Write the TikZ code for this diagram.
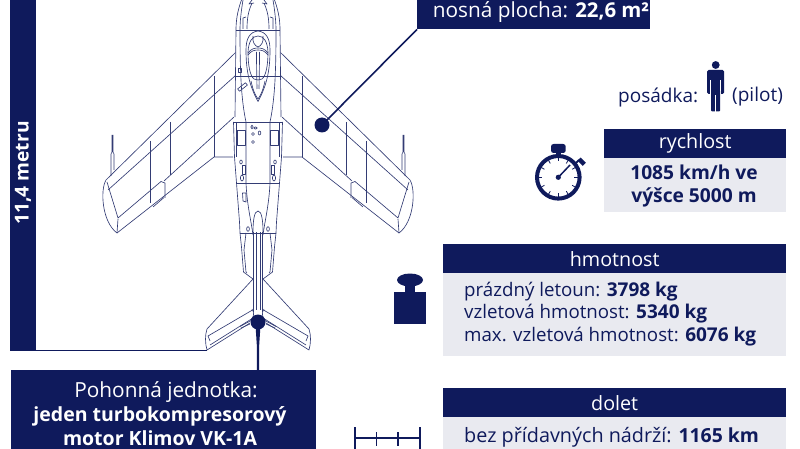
\documentclass[tikz,border=0pt]{standalone}
\usepackage{fontspec}
\usetikzlibrary{calc}
\setmainfont{Open Sans}
\definecolor{navy}{HTML}{0F1A5C}
\definecolor{panel}{HTML}{E9EAF0}
\newcommand\bsz[2]{{\fontsize{#1}{24}\selectfont\bfseries #2}}
\newcommand\lowered[1]{\raisebox{-1pt}{#1}}
\tikzset{
 x=1pt,y=-1pt,
 plane/.style={draw=navy!85!white,line width=0.65pt,line join=round},
 head/.style={fill=navy,draw=none,inner sep=0,text=white,font=\fontsize{19.7}{22}\selectfont},
 card/.style={fill=panel,draw=none},
 txt/.style={text=navy,font=\fontsize{18.7}{22.5}\selectfont,inner sep=0,anchor=west,align=left},
 lead/.style={draw=navy,line width=1.6pt},
 dotm/.style={circle,fill=navy,minimum size=15pt,inner sep=0},
 icon/.style={fill=navy,draw=none},
}
\begin{document}
\begin{tikzpicture}
\useasboundingbox (0,0) rectangle (800,449);
% --- plane: left half drawn, then mirrored about x=258
\foreach \mm/\oo in {1/0,-1/516}{
\begin{scope}[xshift=\oo pt,xscale=\mm]
 % wing
 \draw[plane] (235.5,52.5) -- (106,180) .. controls (100,190) and (102,222) .. (117,233) -- (214,157) -- (233,157);
 \draw[plane] (235.5,75.5) -- (108,190);
 \draw[plane] (107,182) -- (118,218) -- (161,181.5) -- (165,183) -- (165,198);
 \draw[plane] (118,219) -- (117,233);
 \draw[plane] (234,117) -- (164,181);
 \draw[plane] (153,207) -- (164,197.5);
 \draw[plane] (214,76) -- (214,157);
 \draw[plane] (170,122) -- (170,175);
 \draw[plane] (150,141) -- (150,203);
 \draw[plane] (111,176) -- (111,154) -- (112,152) -- (112,135) (113,135) -- (113,152) -- (114,154) -- (114,170);
 % fuselage
 \draw[plane] (241.5,0) .. controls (237,12) and (236,22) .. (236,30) -- (235,117);
 \draw[plane] (243,0) .. controls (241,12) and (240,22) .. (240,30) .. controls (240,70) and (241,95) .. (245,117) -- (246,122) -- (246,183) .. controls (247,205) and (251,220) .. (253,235);
 \draw[plane] (233.5,122) -- (258,122);
 \draw[plane] (233.5,122) -- (234.5,157) -- (236.5,183) -- (239.5,222) -- (240,233);
 \draw[plane] (236.5,123) -- (236.5,157);
 \draw[plane] (236,30) -- (258,30);
 \draw[plane] (236,76) -- (258,76);
 \draw[plane] (236.5,183) -- (258,183);
 \draw[plane] (240,233) -- (258,233);
 % duct and panels
 \draw[plane] (237.5,130.5) rectangle (245.5,145.5);
 \draw[plane] (241,162) ellipse [x radius=1.3,y radius=2];
 \draw[plane] (242,165) rectangle (245,174);
 \draw[plane] (242,178) ellipse [x radius=1.6,y radius=3];
 % nose details
 \draw[plane] (243,29) -- (243,18) -- (246,17) (252,0) -- (249,4) -- (254,3);
 \draw[plane] (247,29) .. controls (247,14) and (250,8) .. (252,3);
 % tail fuselage
 \draw[plane] (240,233) -- (241.5,247) -- (243.5,272) -- (253,279) -- (207,329) .. controls (205,335) and (205,343) .. (207,350) -- (250,323);
 \draw[plane] (246,233) -- (244,250) -- (246,272) -- (247,273);
 \draw[plane] (252.5,310) -- (208,336) -- (210,341) (252,309) .. controls (254,312) and (254,315) .. (253,318) -- (210,345);
 \draw[plane] (240,326.5) -- (252,320) (241,328) -- (250,324);
 % cockpit half
 \draw[plane] (258,31) .. controls (250,32) and (246,38) .. (246,50) .. controls (246,70) and (249,85) .. (258,101.5);
 \draw[plane] (258,36) .. controls (252,36) and (248.5,42) .. (248,52) .. controls (248,65) and (250,76) .. (254,79) -- (258,80);
 \draw[plane] (248,53) .. controls (251,49) and (254,48) .. (258,48);
 \draw[plane] (248,55) .. controls (251,51) and (254,50) .. (258,50);
 \draw[plane] (251,81) .. controls (253,90) and (255,95) .. (258,99);
 \draw[plane] (253,36) .. controls (252,42) and (255,46) .. (258,47);
 \draw[plane] (256.5,52) -- (256.5,60) -- (257,89);
 % exhaust
 \draw[plane] (253.3,232) -- (253.3,312);
 \draw[plane] (256,232) -- (256,310);
 \draw[plane] (248,229) ellipse [x radius=1.4,y radius=2.3];
\end{scope}}
\draw[plane] (258,211) .. controls (254,211) and (253,222) .. (253,232);
\draw[plane] (258,211) .. controls (262,211) and (263,222) .. (263,232);
% left-side only details
\draw[plane] (238,68) rectangle (241,72);
\draw[plane,rotate around={38:(242.5,87)}] (237.5,85.5) rectangle (247.5,88.5);
\draw[plane] (242.5,193) -- (246,193) -- (246,202) -- (243,201) -- cycle;
\foreach \pa/\pb/\pc/\pd in {252/127/1.2/1.9, 255.5/128/1.8/1.2, 253/134/1.5/1.5, 259.5/133/1.3/2, 253/142/1.5/1.5}{
 \draw[plane] (\pa,\pb) ellipse [x radius=\pc,y radius=\pd];
}
% --- leaders and dark panels
\fill[navy] (10,0) rectangle (36,351);
\node[rotate=90,inner sep=0,text=white,font=\bfseries\fontsize{19.2}{20}\selectfont] (span) at (23,173) {11,4 metru};
\coordinate (spanend) at (36,350.5);
\coordinate (spantail) at (207,350.5);
\draw[navy,line width=0.8pt] (spanend) -- (spantail);
\node[fill=navy,inner sep=0,minimum width=233pt,minimum height=30pt,anchor=north west] (area) at (417,-1) {};
\node[text=white,inner sep=0,font=\fontsize{20.8}{22}\selectfont] (areatxt) at (541,12) {nosná plocha: \bsz{20.4}{22,6 m²}};
\node[dotm] (wingdot) at (322,125) {};
\draw[lead] (area.south west) -- (wingdot.center);
\node[fill=navy,inner sep=0,minimum width=305pt,minimum height=80pt,anchor=north west] (engine) at (11,370) {};
\node[text=white,inner sep=0,align=center,font=\fontsize{19.5}{24}\selectfont] (enginetxt) at (160,413.5) {\hspace*{12pt}{\fontsize{20.8}{24}\selectfont Pohonná jednotka:}\\\bsz{19.5}{jeden turbokompresorový}\\\bsz{19.5}{motor Klimov VK-1A}};
\node[dotm] (taildot) at (258,322) {};
\coordinate (engtop) at (258,370);
\fill[navy] (255.5,325) -- (260.5,325) -- (259.2,345) -- (259.2,370) -- (256.8,370) -- (256.8,345) -- cycle;
% --- crew
\node[txt,font=\fontsize{19}{22}\selectfont] (crew) at (618,97.5) {posádka:};
\node[txt,font=\fontsize{19}{22}\selectfont] (pilot) at (732,96.5) {(pilot)};
\fill[icon] (715.7,65) circle (3.9);
\fill[icon,rounded corners=1.5pt] (707,70) rectangle (724,94);
\fill[white] (710,80) rectangle (711,95);
\fill[white] (720.2,80) rectangle (721.2,95);
\fill[icon,rounded corners=1pt] (711,90) rectangle (720.2,111.5);
\fill[white] (715.3,95) rectangle (716.1,112);
% --- speed
\fill[card] (604,158) rectangle (786,212);
\node[head,minimum width=182pt,minimum height=29pt,anchor=north west] (speedh) at (604,129) {\lowered{rychlost}};
\node[inner sep=0,align=center,text=navy,font=\bfseries\fontsize{19.2}{23.5}\selectfont] (speedt) at (694,186) {1085 km/h ve\\výšce 5000 m};
\draw[navy,line width=4pt] (558.3,177.3) circle (21.3);
\fill[icon,rounded corners=2.5pt] (551,144) rectangle (565.7,153);
\fill[icon] (556,150) rectangle (560.5,156);
\fill[icon,rotate around={-45:(581.7,161.7)}] (578,159.5) rectangle (585.4,164);
\draw[navy,line width=2pt] (574,165) -- (579,160);
\fill[icon] (558.3,177.3) circle (2.6);
\draw[navy,line width=1.5pt] (558.3,177.3) -- (570,165);
\foreach \ang in {0,30,...,330}{
 \draw[navy,line width=0.8pt] ($(558.3,177.3)+(\ang:19.5)$) -- ($(558.3,177.3)+(\ang:16)$);
}
% --- mass
\fill[card] (443,272.5) rectangle (786,356);
\node[head,minimum width=343pt,minimum height=29pt,anchor=north west] (massh) at (443,244) {hmotnost};
\node[txt] (masst) at (464,314) {prázdný letoun: \bsz{19}{3798 kg}\\vzletová hmotnost: \bsz{19}{5340 kg}\\max. vzletová hmotnost: \bsz{19}{6076 kg}};
\fill[icon] (410,280) ellipse [x radius=13,y radius=6.5];
\fill[icon] (405,284) rectangle (415,293);
\fill[icon] (393.5,292) rectangle (426,324);
% --- range
\fill[card] (443,417) rectangle (786,449);
\node[head,minimum width=343pt,minimum height=29pt,anchor=north west] (rangeh) at (443,388) {dolet};
\node[txt,font=\fontsize{19.8}{22.5}\selectfont] (ranget) at (464,437) {bez přídavných nádrží: \bsz{19.4}{1165 km}};
\draw[navy,line width=1.4pt] (355,438) -- (420,438);
\draw[navy,line width=1.4pt] (355,427) -- (355,449) (420,427) -- (420,449) (376.7,432) -- (376.7,446) (398,432) -- (398,446);
\end{tikzpicture}
\end{document}
